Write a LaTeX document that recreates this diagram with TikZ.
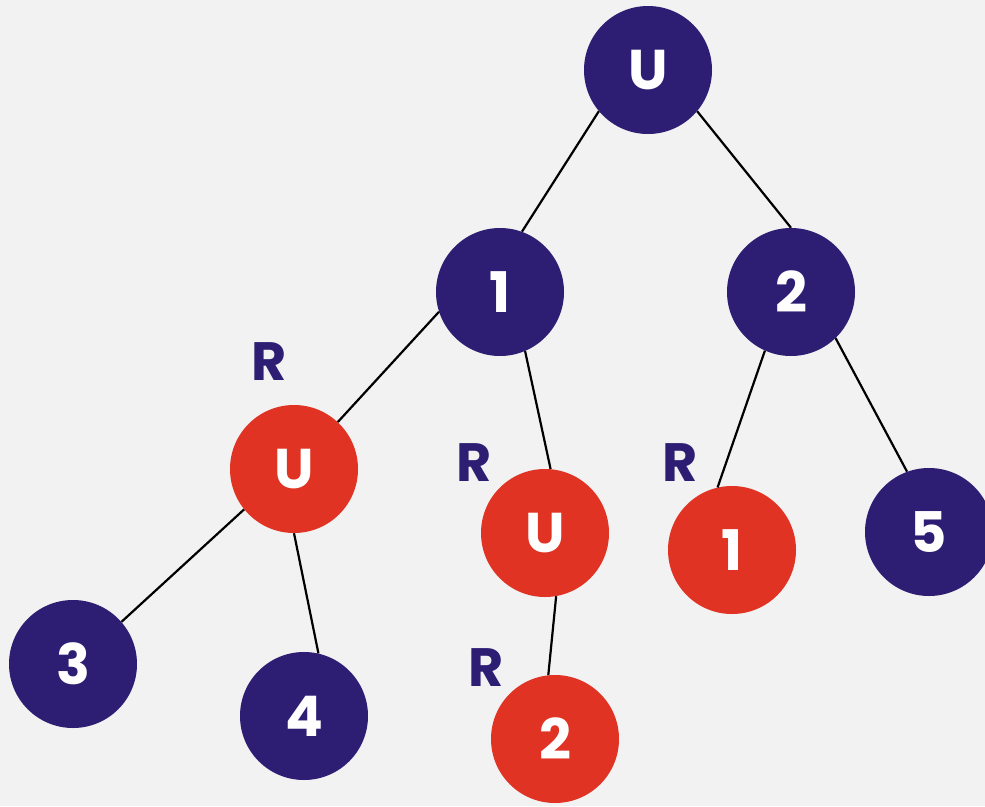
\documentclass[tikz,border=0pt]{standalone}
\usepackage{fontspec}
\setmainfont{Poppins}
\usepackage{tikz}
\usetikzlibrary{calc, shapes}
\definecolor{qnavy}{HTML}{2D1E73}
\definecolor{qred}{HTML}{E13323}
\definecolor{qback}{HTML}{F2F2F2}

\begin{document}
\begin{tikzpicture}[x=1pt,y=-1pt]
\tikzstyle{blue}=[circle,fill=qnavy,minimum size=128pt,inner sep=0pt,text=white,font=\fontsize{56}{56}\selectfont\bfseries]
\tikzstyle{red}=[circle,fill=qred,minimum size=128pt,inner sep=0pt,text=white,font=\fontsize{56}{56}\selectfont\bfseries]
\tikzstyle{tag}=[inner sep=0pt,text=qnavy,font=\fontsize{54}{54}\selectfont\bfseries]
\fill[qback] (0,0) rectangle (985,806);
\useasboundingbox (0,0) rectangle (985,806);
\node[blue] (T_0) at (648,70) {U};
\node[blue] (T_1) at (500,292) {1};
\node[blue] (T_2) at (791,292) {2};
\node[red] (T_3) at (294,469) {U};
\node[red] (T_4) at (545,533) {U};
\node[red] (T_5) at (732,550) {1};
\node[blue] (T_6) at (929,532) {5};
\node[blue] (T_7) at (73,664) {3};
\node[blue] (T_8) at (304,716) {4};
\node[red] (T_9) at (555,739) {2};
\node[tag] (R_3) at (269,362) {R};
\node[tag] (R_4) at (474,463) {R};
\node[tag] (R_5) at (680,463) {R};
\node[tag] (R_9) at (486,668) {R};
\draw[line width=2.2pt] (T_0.220) -- (T_1.70);
\draw[line width=2.2pt] (T_0.-40) -- (T_2.north);
\draw[line width=2.2pt] (T_1.198) -- (T_3.47);
\draw[line width=2.2pt] (T_1.-67) -- (T_4.85);
\draw[line width=2.2pt] (T_2.246) -- (T_5.103);
\draw[line width=2.2pt] (T_2.-46) -- (T_6.110);
\draw[line width=2.2pt] (T_3.219) -- (T_7.41);
\draw[line width=2.2pt] (T_3.south) -- (T_8.77);
\draw[line width=2.2pt] (T_4.-80) -- (T_9.96);
\end{tikzpicture}
\end{document}
